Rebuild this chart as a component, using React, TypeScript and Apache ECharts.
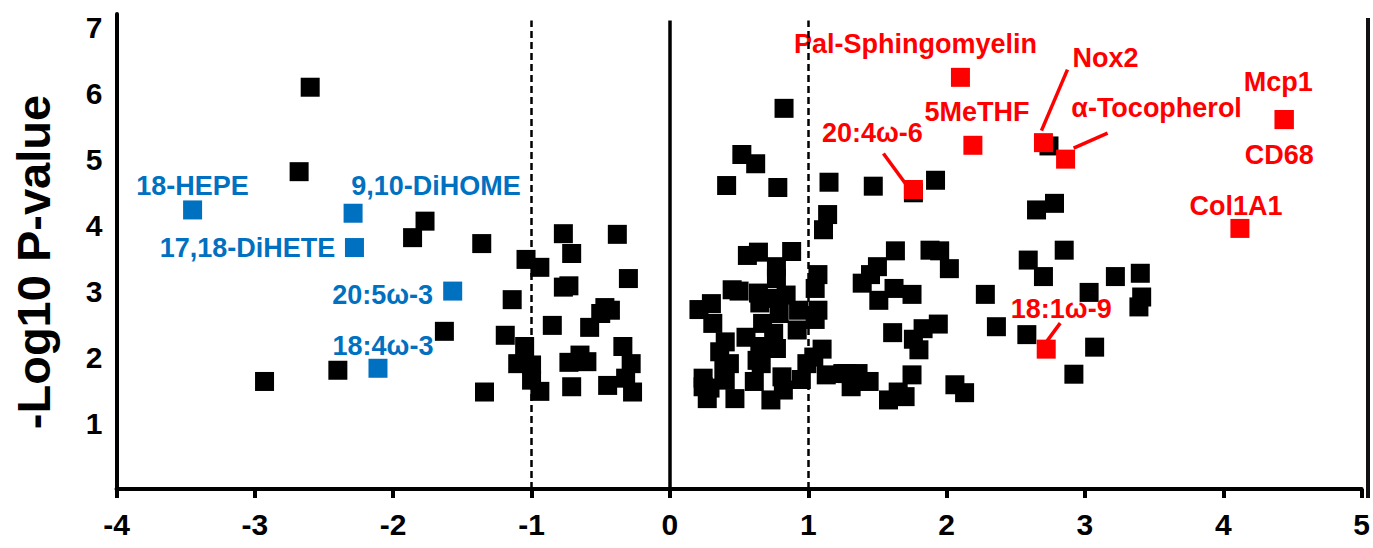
import React, { useEffect, useRef } from 'react';
import * as echarts from 'echarts';

const FONT = '"Liberation Sans", Arial, Helvetica, sans-serif';

// Axis ticks
const xMin = -4;
const xMax = 5;
const yMin = 0;
const yMax = 7.2;
const yTickLabels = [1, 2, 3, 4, 5, 6, 7];

// Fold-change thresholds (dashed) and zero line (solid)
const thresholdLines = [-1, 1];
const zeroLine = [0];
const guideTop = 7.1;

// Non-significant / unlabeled metabolites: [log2 fold change, -log10 p]
const otherPoints: [number, number][] = [
  [-2.60, 6.09], [-2.68, 4.81], [-1.77, 4.06], [-1.86, 3.81], [-1.36, 3.72],
  [-1.63, 2.39], [-2.40, 1.80], [-2.93, 1.63], [-1.34, 1.47],
  [-0.77, 3.87], [-0.38, 3.86], [-0.71, 3.57], [-1.04, 3.48], [-0.94, 3.36],
  [-0.30, 3.19], [-0.77, 3.06], [-0.73, 3.08], [-1.14, 2.87], [-0.47, 2.75],
  [-0.43, 2.71], [-0.50, 2.66], [-0.85, 2.48], [-0.58, 2.45], [-1.19, 2.33],
  [-1.05, 2.16], [-0.34, 2.16], [-1.10, 1.90], [-1.00, 1.88], [-0.65, 2.03],
  [-0.73, 1.92], [-0.60, 1.93], [-0.28, 1.90], [-1.00, 1.65], [-0.94, 1.48],
  [-0.71, 1.55], [-0.45, 1.57], [-0.32, 1.68], [-0.27, 1.47],
  [0.825, 5.77], [0.52, 5.07], [0.62, 4.93], [0.41, 4.60], [0.78, 4.57],
  [1.15, 4.65], [1.14, 4.16], [1.11, 3.93], [0.56, 3.54], [0.64, 3.59],
  [0.88, 3.60], [0.77, 3.37], [0.77, 3.19], [1.07, 3.25], [1.05, 3.04],
  [0.45, 3.02], [0.50, 3.00], [0.64, 2.97], [0.84, 2.94], [0.21, 2.72],
  [0.30, 2.81], [0.31, 2.51], [0.93, 2.71], [1.07, 2.71], [1.05, 2.57],
  [0.67, 2.51], [0.79, 2.66], [0.92, 2.41], [0.55, 2.30], [0.40, 2.23],
  [0.36, 2.08], [0.65, 2.16], [0.77, 2.13], [1.10, 2.12], [1.04, 2.00],
  [0.99, 1.90], [0.66, 1.90], [0.43, 1.90], [0.24, 1.68], [0.24, 1.55],
  [0.40, 1.65], [0.61, 1.63], [0.81, 1.70], [0.82, 1.50], [0.95, 1.66],
  [0.27, 1.37], [0.47, 1.37], [0.73, 1.35], [1.13, 1.73], [1.25, 1.75],
  [1.31, 1.55], [0.72, 2.89], [0.65, 2.82], [0.75, 2.36], [0.63, 1.95],
  [0.39, 1.80], [0.29, 1.53],
  [1.47, 4.59], [1.92, 4.68], [1.76, 4.49], [1.63, 3.61], [1.88, 3.62],
  [1.95, 3.61], [2.02, 3.34], [1.50, 3.37], [1.39, 3.12], [1.45, 3.25],
  [1.62, 3.04], [1.75, 2.95], [1.51, 2.86], [2.28, 2.95], [1.61, 2.37],
  [1.83, 2.43], [1.94, 2.50], [1.76, 2.27], [1.80, 2.11], [2.36, 2.46],
  [1.28, 1.75], [1.36, 1.75], [1.44, 1.63], [1.75, 1.73], [1.65, 1.47],
  [1.58, 1.35], [1.70, 1.40], [2.06, 1.58], [2.13, 1.46],
  [2.74, 5.20], [2.78, 4.33], [2.65, 4.23], [2.85, 3.62], [2.59, 3.47],
  [2.70, 3.22], [3.22, 3.22], [3.40, 3.27], [3.41, 2.91], [3.39, 2.76],
  [3.03, 2.98], [2.58, 2.34], [3.07, 2.15], [2.92, 1.74],
];

// Down-regulated, labelled (blue)
const downNames = ['18-HEPE', '9,10-DiHOME', '17,18-DiHETE', '20:5ω-3', '18:4ω-3'];
const downFC = [-3.45, -2.29, -2.28, -1.57, -2.11];
const downP = [4.23, 4.18, 3.66, 3.00, 1.83];

// Up-regulated, labelled (red)
const upNames = ['Pal-Sphingomyelin', '5MeTHF', '20:4ω-6', 'Nox2', 'α-Tocopherol', 'Mcp1', 'CD68', 'Col1A1', '18:1ω-9'];
const upFC = [2.10, 2.19, 1.76, 2.70, 2.86, 4.44, 4.44, 4.12, 2.72];
const upP = [6.24, 5.21, 4.54, 5.25, 5.00, 5.60, 5.60, 3.95, 2.12];

// Layout: label offsets in pixels relative to the marker
const labelOffsets: Record<string, [number, number]> = {
  '18-HEPE': [0, -24],
  '9,10-DiHOME': [83, -27],
  '17,18-DiHETE': [-107, 0],
  '20:5ω-3': [-70, 4],
  '18:4ω-3': [5, -22],
  'Pal-Sphingomyelin': [-45, -33],
  '5MeTHF': [4, -33],
  '20:4ω-6': [-41, -56],
  'Nox2': [62, -85],
  'α-Tocopherol': [91, -51],
  'Mcp1': [-6, -38],
  'CD68': [-5, 35],
  'Col1A1': [-4, -22],
  '18:1ω-9': [15, -40],
};

// Layout: leader lines, pixel offsets relative to marker [x1, y1, x2, y2]
const leaderLines: Record<string, [number, number, number, number]> = {
  '20:4ω-6': [-30, -36, -8, -6],
  'Nox2': [24, -73, -2, -12],
  'α-Tocopherol': [42, -26, 8, -11],
  '18:1ω-9': [14, -26, 0, -7],
};

const BLUE = '#0070C0';
const RED = '#FF0000';

export default function App() {
  const ref = useRef<HTMLDivElement>(null);

  useEffect(() => {
    if (!ref.current) return;
    const chart = echarts.init(ref.current, undefined, { renderer: 'svg' });

    const labelStyle = {
      show: true,
      position: 'inside',
      formatter: '{b}',
      fontSize: 27,
      fontWeight: 'bold',
      fontFamily: FONT,
    };

    const guideSeries = (xs: number[], lineStyle: any) => ({
      type: 'scatter',
      data: [],
      z: 1,
      silent: true,
      markLine: {
        silent: true,
        symbol: ['none', 'none'],
        label: { show: false },
        lineStyle,
        emphasis: { disabled: true },
        data: xs.map((x) => [{ coord: [x, yMin] }, { coord: [x, guideTop] }]),
      },
    });

    chart.setOption({
      animation: false,
      backgroundColor: '#ffffff',
      grid: { left: 116.5, right: 10, top: 14, bottom: 59, containLabel: false },
      xAxis: {
        type: 'value',
        min: xMin,
        max: xMax,
        interval: 1,
        axisLine: { show: true, onZero: false, lineStyle: { color: '#000', width: 4 } },
        axisTick: { show: true, length: 9, lineStyle: { color: '#000', width: 4 } },
        axisLabel: {
          color: '#000',
          fontSize: 30,
          fontWeight: 'bold',
          fontFamily: FONT,
          margin: 20,
        },
        splitLine: { show: false },
      },
      yAxis: {
        type: 'value',
        min: yMin,
        max: yMax,
        interval: 1,
        axisLine: { show: true, onZero: false, lineStyle: { color: '#000', width: 4 } },
        axisTick: { show: false },
        axisLabel: {
          color: '#000',
          fontSize: 30,
          fontWeight: 'bold',
          fontFamily: FONT,
          margin: 14,
          formatter: (v: number) => (yTickLabels.includes(v) ? String(v) : ''),
        },
        splitLine: { show: false },
      },
      series: [
        guideSeries(zeroLine, { color: '#000', width: 3.5, type: 'solid' }),
        guideSeries(thresholdLines, { color: '#000', width: 2.5, type: [7, 4] }),
        {
          type: 'scatter',
          name: 'other',
          z: 2,
          symbol: 'rect',
          symbolSize: 19,
          itemStyle: { color: '#000', opacity: 1 },
          data: otherPoints,
          silent: true,
        },
        {
          type: 'scatter',
          name: 'down',
          z: 3,
          symbol: 'rect',
          symbolSize: 19,
          itemStyle: { color: BLUE, opacity: 1 },
          label: { ...labelStyle, color: BLUE },
          data: downNames.map((n, i) => ({
            name: n,
            value: [downFC[i], downP[i]],
            label: { offset: labelOffsets[n] },
          })),
          silent: true,
        },
        {
          type: 'scatter',
          name: 'up',
          z: 3,
          symbol: 'rect',
          symbolSize: 19,
          itemStyle: { color: RED, opacity: 1 },
          label: { ...labelStyle, color: RED },
          data: upNames.map((n, i) => ({
            name: n,
            value: [upFC[i], upP[i]],
            label: { offset: labelOffsets[n] },
          })),
          silent: true,
        },
      ],
    });

    const leaders = Object.keys(leaderLines).map((n) => {
      const i = upNames.indexOf(n);
      const p = chart.convertToPixel({ gridIndex: 0 }, [upFC[i], upP[i]]) as number[];
      const [a, b, c, d] = leaderLines[n];
      return {
        type: 'line',
        z: 50,
        silent: true,
        shape: { x1: p[0] + a, y1: p[1] + b, x2: p[0] + c, y2: p[1] + d },
        style: { stroke: RED, lineWidth: 3.5 },
      };
    });

    chart.setOption({
      graphic: [
        {
          type: 'text',
          x: 33,
          y: 262,
          rotation: Math.PI / 2,
          silent: true,
          style: {
            text: '-Log10 P-value',
            fontSize: 47,
            fontWeight: 'bold',
            fontFamily: FONT,
            fill: '#000',
            align: 'center',
            verticalAlign: 'middle',
          },
        },
        {
          type: 'line',
          silent: true,
          shape: { x1: 1368, y1: 18, x2: 1368, y2: 498 },
          style: { stroke: '#111', lineWidth: 4 },
        },
        ...leaders,
      ],
    });

    return () => chart.dispose();
  }, []);

  return (
    <div
      ref={ref}
      style={{ position: 'fixed', left: 0, top: 0, width: 1373, height: 548, background: '#fff' }}
    />
  );
}
